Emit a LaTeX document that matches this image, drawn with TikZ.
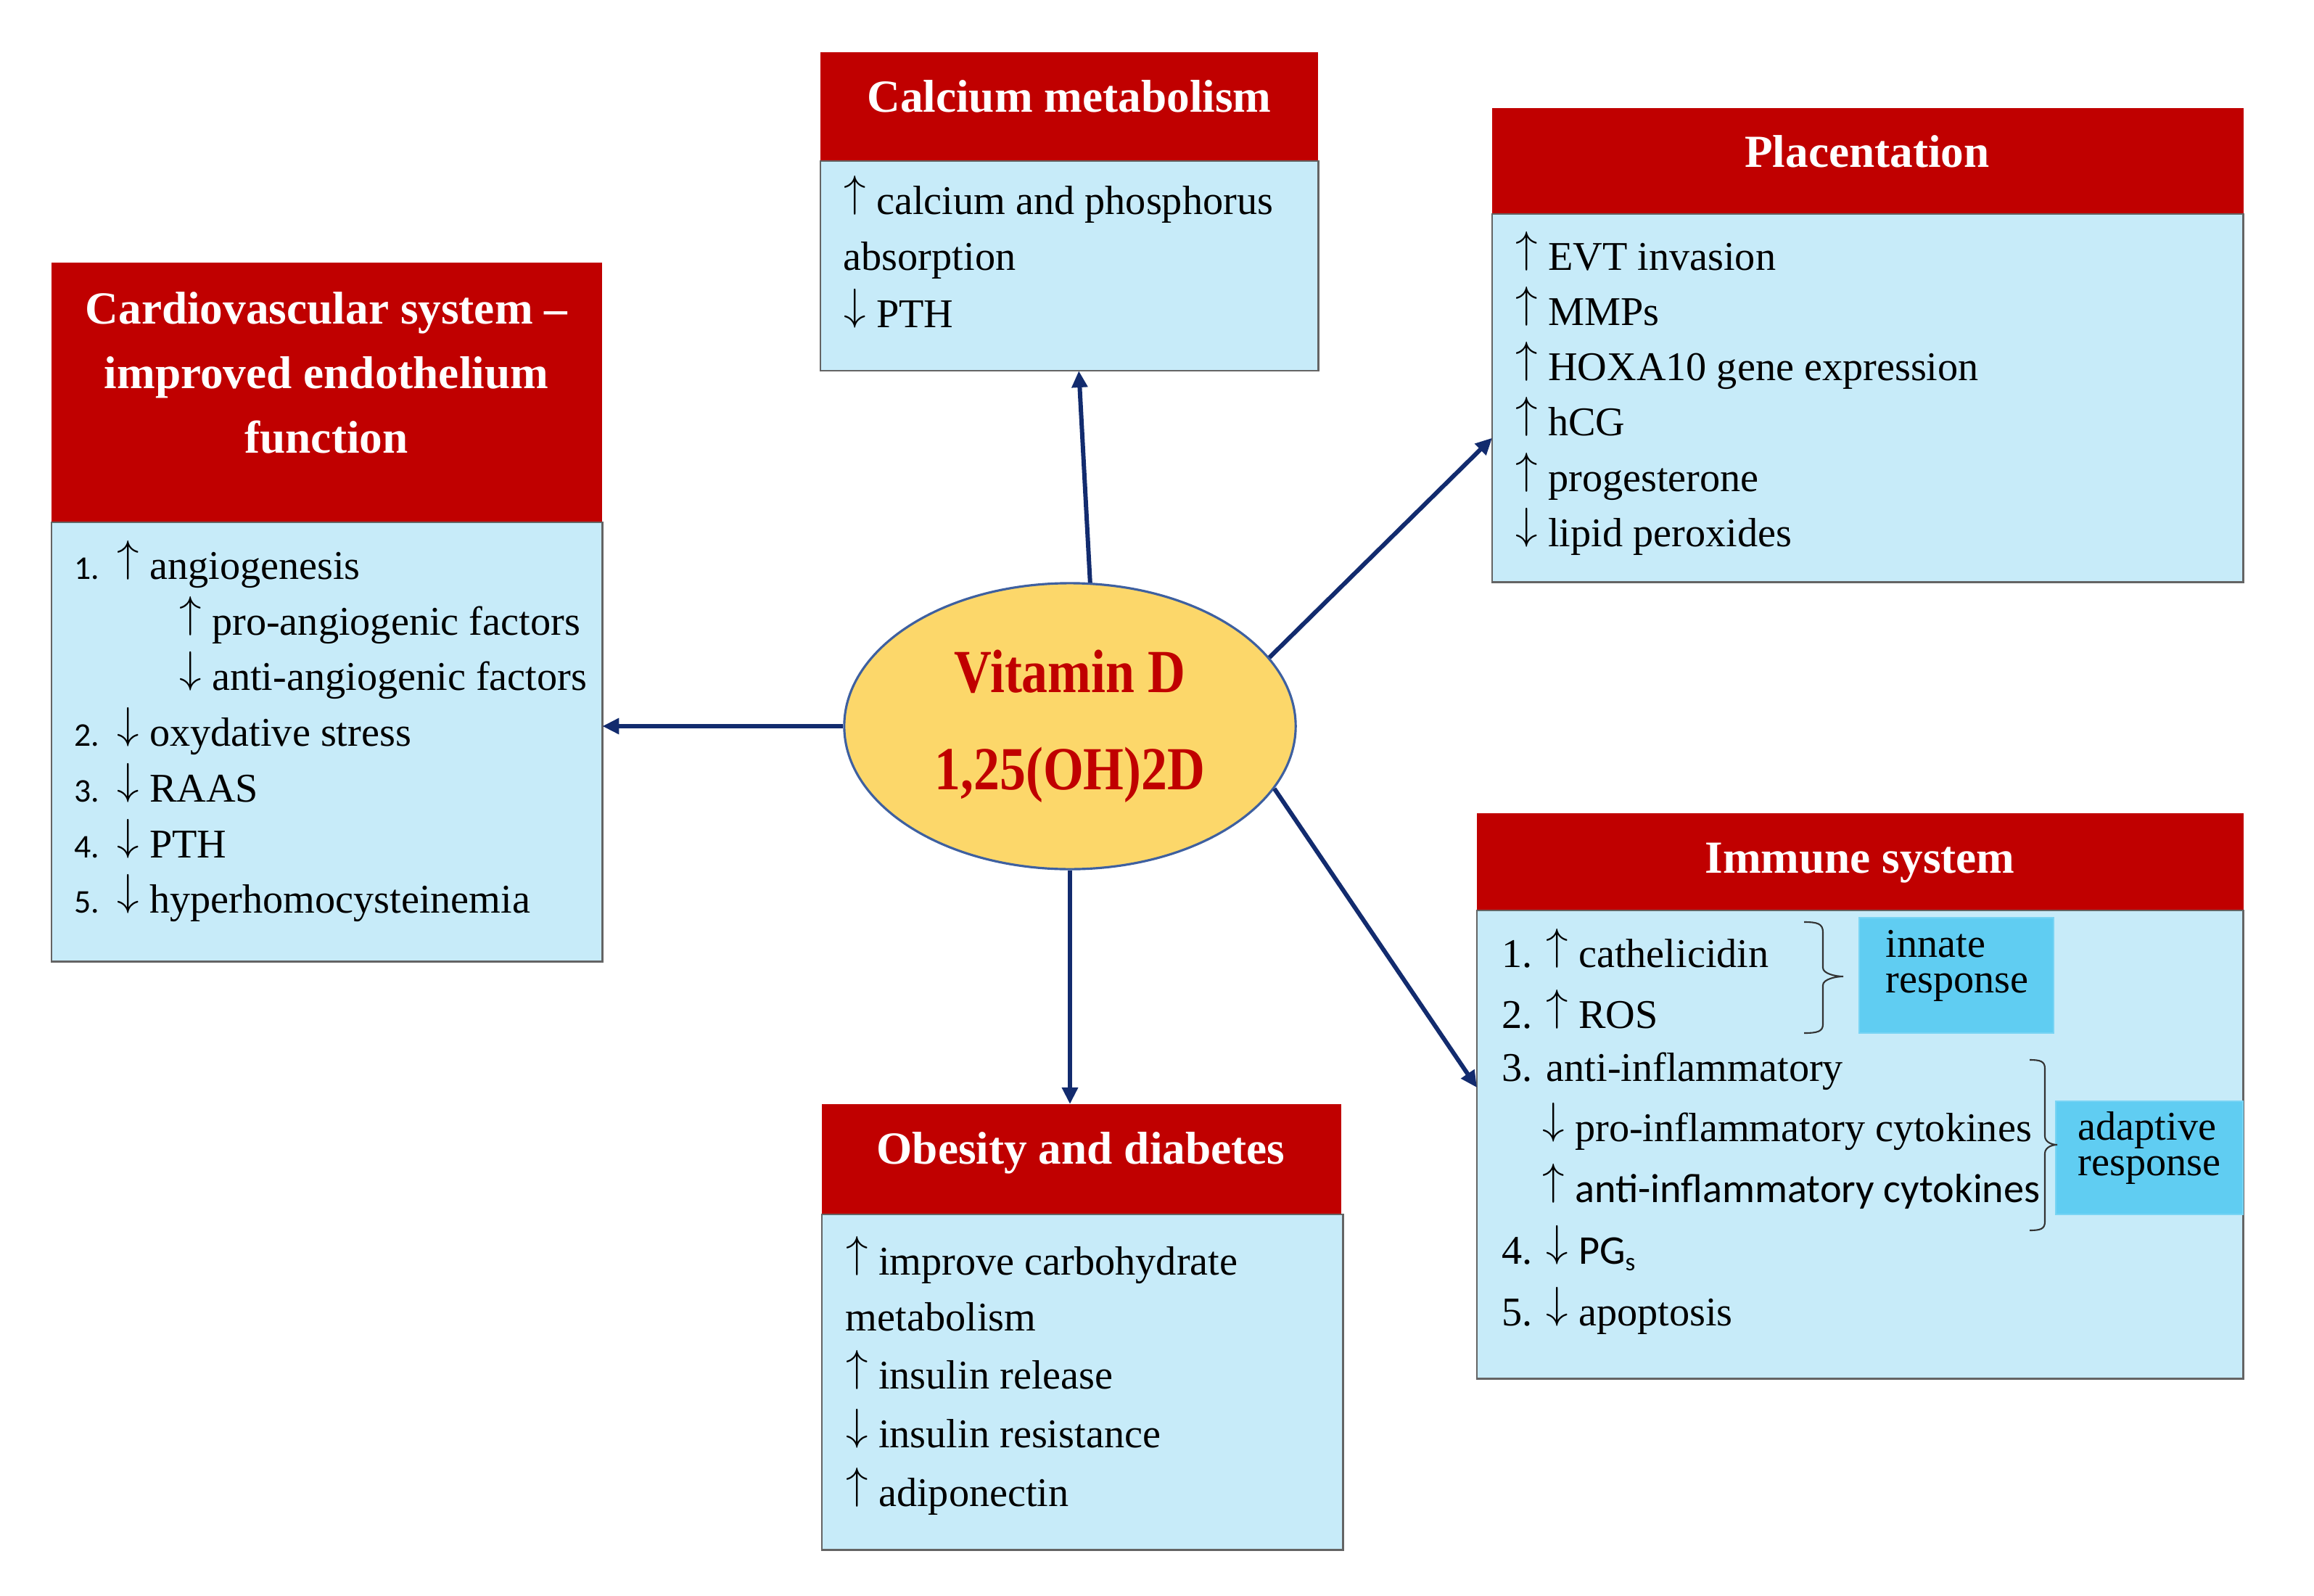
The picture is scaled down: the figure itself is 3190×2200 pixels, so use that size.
\documentclass[tikz,border=0pt]{standalone}
\usepackage{graphicx}
\usepackage{fontspec}
\setmainfont{Liberation Serif}
\newfontfamily\carl{Carlito}
\newfontfamily\vitf{Liberation Serif}[FakeStretch=0.85]
\usetikzlibrary{arrows.meta,shapes.geometric}
\newcommand\upa{\raisebox{0.19em}{$\uparrow$}}
\newcommand\dna{\raisebox{0.19em}{$\downarrow$}}
\definecolor{hdrred}{RGB}{192,0,0}
\definecolor{bodyblue}{RGB}{199,235,249}
\definecolor{respblue}{RGB}{96,205,242}
\definecolor{ellfill}{RGB}{252,215,106}
\definecolor{ellline}{RGB}{62,96,160}
\definecolor{navy}{RGB}{18,43,110}
\definecolor{bordergray}{RGB}{100,100,100}
\tikzset{
  hdr/.style={fill=hdrred, draw=none, inner sep=0, outer sep=0, anchor=north west},
  bodybox/.style={fill=bodyblue, draw=bordergray, line width=0.7pt, inner sep=0, outer sep=0, anchor=north west},
  respbox/.style={fill=respblue, draw=respblue!85!white, line width=0.5pt, outer sep=0, anchor=north west},
  txt/.style={inner sep=0, anchor=base west, font=\fontsize{16}{19}\selectfont},
  numtxt/.style={inner sep=0, anchor=base west, font=\carl\fontsize{13}{16}\selectfont},
  httl/.style={text=white, font=\bfseries\fontsize{18}{25.3}\selectfont, inner sep=0, align=center},
  arr/.style={draw=navy, line width=1.7pt, -{Triangle[length=6.5pt,width=6pt]}},
  brc/.style={draw=black!80, line width=0.6pt},
}
\begin{document}
\begin{tikzpicture}[x=0.01cm,y=-0.01cm]
\useasboundingbox (0,0) rectangle (3190,2200);
\fill[white] (0,0) rectangle (3190,2200);

% ---------- Cardiovascular ----------
\node[hdr, minimum width=7.59cm, minimum height=3.58cm] (cvhead) at (71,362) {};
\node[bodybox, minimum width=7.59cm, minimum height=6.05cm] (cvbody) at (71,720) {};
\node[httl, anchor=north] (cvtitle) at (450,402) {Cardiovascular system –\\improved endothelium\\function};
\node[numtxt] (cn1) at (102,798) {1.};
\node[numtxt] (cn2) at (102,1028) {2.};
\node[numtxt] (cn3) at (102,1105) {3.};
\node[numtxt] (cn4) at (102,1182) {4.};
\node[numtxt] (cn5) at (102,1258) {5.};
\node[txt] (c1) at (161,798) {\upa{} angiogenesis};
\node[txt] (c1a) at (247,875) {\upa{} pro-angiogenic factors};
\node[txt] (c1b) at (247,951) {\dna{} anti-angiogenic factors};
\node[txt] (c2) at (161,1028) {\dna{} oxydative stress};
\node[txt] (c3) at (161,1105) {\dna{} RAAS};
\node[txt] (c4) at (161,1182) {\dna{} PTH};
\node[txt] (c5) at (161,1258) {\dna{} hyperhomocysteinemia};

% ---------- Calcium ----------
\node[hdr, minimum width=6.86cm, minimum height=1.50cm] (cahead) at (1131,72) {};
\node[bodybox, minimum width=6.86cm, minimum height=2.89cm] (cabody) at (1131,222) {};
\node[httl, anchor=base] (catitle) at (1474,155) {Calcium metabolism};
\node[txt] (ca1) at (1163,295) {\upa{} calcium and phosphorus};
\node[txt] (ca2) at (1162,373) {absorption};
\node[txt] (ca3) at (1163,451) {\dna{} PTH};

% ---------- Placentation ----------
\node[hdr, minimum width=10.35cm, minimum height=1.46cm] (plhead) at (2057,149) {};
\node[bodybox, minimum width=10.35cm, minimum height=5.07cm] (plbody) at (2057,295) {};
\node[httl, anchor=base] (pltitle) at (2574,231) {Placentation};
\node[txt] (p1) at (2089,372) {\upa{} EVT invasion};
\node[txt] (p2) at (2089,448) {\upa{} MMPs};
\node[txt] (p3) at (2089,524) {\upa{} HOXA10 gene expression};
\node[txt] (p4) at (2089,600) {\upa{} hCG};
\node[txt] (p5) at (2089,677) {\upa{} progesterone};
\node[txt] (p6) at (2089,753) {\dna{} lipid peroxides};

% ---------- Immune ----------
\node[hdr, minimum width=10.56cm, minimum height=1.34cm] (imhead) at (2036,1121) {};
\node[bodybox, minimum width=10.56cm, minimum height=6.45cm] (imbody) at (2036,1255) {};
\node[httl, anchor=base] (imtitle) at (2564,1203) {Immune system};
\node[respbox, minimum width=2.68cm, minimum height=1.59cm, inner sep=0] (innate) at (2563,1265) {};
\node[respbox, minimum width=2.58cm, minimum height=1.56cm, inner sep=0] (adapt) at (2834,1518) {};
\node[txt, align=left, font=\fontsize{16}{13.9}\selectfont] (inntxt) at (2599,1368) {innate\\response};
\node[txt, align=left, font=\fontsize{16}{13.7}\selectfont] (adtxt) at (2864,1620) {adaptive\\response};
\node[txt] (i1) at (2070,1333) {1. \upa{} cathelicidin};
\node[txt] (i2) at (2070,1417) {2. \upa{} ROS};
\node[txt] (i3) at (2070,1490) {3. anti-inflammatory};
\node[txt] (i3a) at (2126,1573) {\dna{} pro-inflammatory cytokines};
\node[txt] (i3b) at (2126,1657) {\upa{} {\carl anti-inflammatory cytokines}};
\node[txt] (i4) at (2070,1742) {4. \dna{} {\carl PG\raisebox{-0.35ex}{\fontsize{10}{10}\selectfont s}}};
\node[txt] (i5) at (2070,1827) {5. \dna{} apoptosis};
\draw[brc] (2487,1271) .. controls (2505,1271) and (2513,1273) .. (2513,1285) -- (2513,1334)
  .. controls (2513,1342) and (2530,1346) .. (2541,1346)
  .. controls (2530,1346) and (2513,1350) .. (2513,1358) -- (2513,1412)
  .. controls (2513,1422) and (2505,1424) .. (2487,1424);
\draw[brc] (2798,1461) .. controls (2813,1461) and (2819,1463) .. (2819,1473) -- (2819,1566)
  .. controls (2819,1574) and (2828,1578) .. (2836,1578)
  .. controls (2828,1578) and (2819,1582) .. (2819,1590) -- (2819,1684)
  .. controls (2819,1694) and (2813,1696) .. (2798,1696);

% ---------- Obesity ----------
\node[hdr, minimum width=7.16cm, minimum height=1.52cm] (obhead) at (1133,1522) {};
\node[bodybox, minimum width=7.18cm, minimum height=4.62cm] (obbody) at (1133,1674) {};
\node[httl, anchor=base] (obtitle) at (1490,1604) {Obesity and diabetes};
\node[txt] (o1) at (1166,1757) {\upa{} improve carbohydrate};
\node[txt] (o2) at (1165,1834) {metabolism};
\node[txt] (o3) at (1166,1914) {\upa{} insulin release};
\node[txt] (o4) at (1166,1995) {\dna{} insulin resistance};
\node[txt] (o5) at (1166,2076) {\upa{} adiponectin};

% ---------- Vitamin D ----------
\node[ellipse, draw=ellline, fill=ellfill, line width=0.9pt, minimum width=6.22cm, minimum height=3.94cm,
      inner sep=0, align=center, text=hdrred, font=\vitf\bfseries\fontsize{24}{38.1}\selectfont] (vit) at (1475,1001)
      {Vitamin D\\1,25(OH)2D};

% ---------- Connectors ----------
\draw[arr] (vit.82.8) -- ([xshift=0.13cm]cabody.south);
\draw[arr] (vit.19) -- ([yshift=-0.55cm]plbody.west);
\draw[arr] (vit.west) -- (vit.west -| cvbody.east);
\draw[arr] (vit.south) -- (vit.south |- obhead.north);
\draw[arr] (vit.-17.6) -- ([yshift=0.785cm]imbody.west);
\end{tikzpicture}
\end{document}
